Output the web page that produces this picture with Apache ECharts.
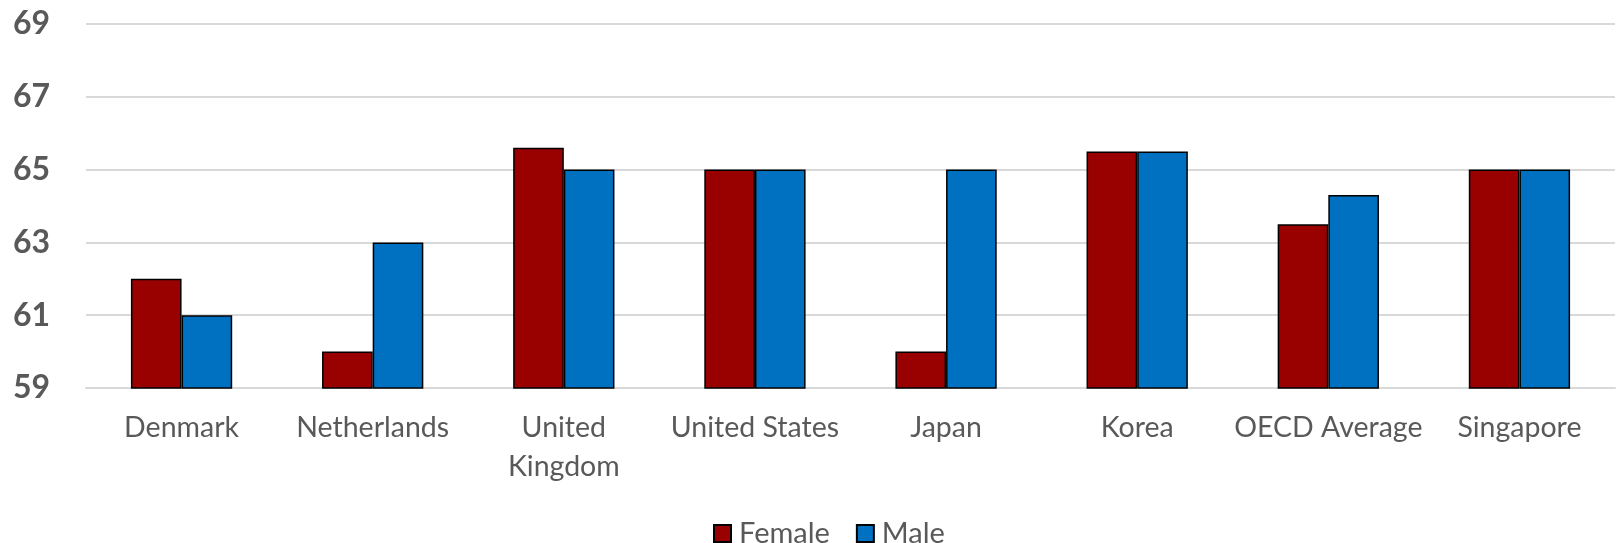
<!DOCTYPE html>
<html>
<head>
    <meta charset="utf-8">
    <title>Retirement age by gender</title>
    <script src="https://cdn.jsdelivr.net/npm/echarts@6/dist/echarts.min.js"></script>
    <style>
        html, body { margin: 0; padding: 0; background: #fff; }
    </style>
</head>
<body>
    <div id="main" style="width:1619px; height:543px"></div>
    <script type="text/javascript">
        var countries = ['Denmark', 'Netherlands', 'United\nKingdom', 'United States', 'Japan', 'Korea', 'OECD Average', 'Singapore'];
        var female = [62, 60, 65.6, 65, 60, 65.5, 63.5, 65];
        var male = [61, 63, 65, 65, 65, 65.5, 64.3, 65];

        var myChart = echarts.init(document.getElementById('main'));

option = {
    animation: false,
    textStyle: { fontFamily: 'Lato' },
    grid: {
        left: 86,
        right: 4,
        top: 24,
        bottom: 155
    },
    legend: {
        data: ['Female', 'Male'],
        left: 708,
        top: 514,
        itemWidth: 17,
        itemHeight: 17,
        itemGap: 26,
        icon: 'rect',
        textStyle: { fontSize: 29, color: '#595959', fontFamily: 'Lato', padding: [0, 0, 0, 3] }
    },
    xAxis: {
        type: 'category',
        data: countries,
        axisTick: { show: false },
        axisLine: { lineStyle: { color: '#d9d9d9', width: 2 } },
        axisLabel: {
            fontSize: 28.5,
            color: '#595959',
            lineHeight: 39,
            margin: 20,
            interval: 0
        }
    },
    yAxis: {
        type: 'value',
        min: 59,
        max: 69,
        interval: 2,
        axisLine: { show: false },
        axisTick: { show: false },
        axisLabel: {
            fontSize: 32,
            fontWeight: 'bold',
            color: '#595959',
            margin: 36
        },
        splitLine: { lineStyle: { color: '#d9d9d9', width: 2 } }
    },
    series: [
        {
            name: 'Female',
            type: 'bar',
            data: female,
            barWidth: '26.5%',
            barGap: '0%',
            itemStyle: { color: '#990000', borderColor: '#000', borderWidth: 1.5 }
        },
        {
            name: 'Male',
            type: 'bar',
            data: male,
            barWidth: '26.5%',
            itemStyle: { color: '#0070C0', borderColor: '#000', borderWidth: 1.5 }
        }
    ]
};

        myChart.setOption(option);
    </script>
</body>
</html>
